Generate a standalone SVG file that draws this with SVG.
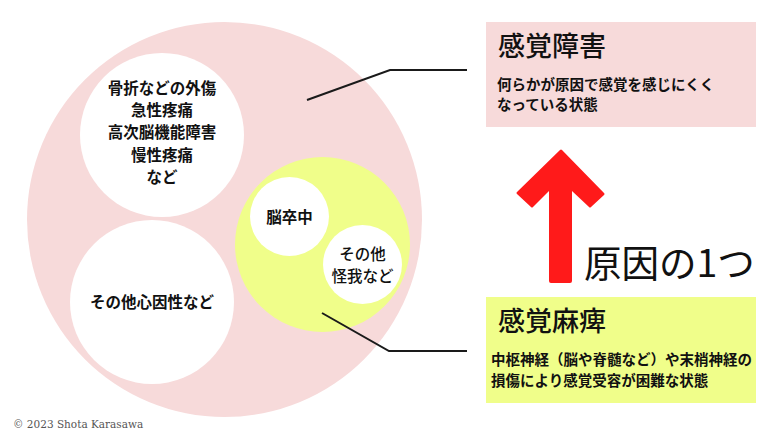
<svg xmlns="http://www.w3.org/2000/svg" width="780" height="439" viewBox="0 0 780 439">
<style>
text{font-family:"Noto Sans CJK JP","Noto Sans",sans-serif;fill:#111;font-weight:700}
.c{text-anchor:middle;font-size:15.5px}
.t{font-size:27px;font-weight:500}
.b{font-size:14.5px}
.line{fill:none;stroke:#1a1a1a;stroke-width:2}
</style>
<rect width="780" height="439" fill="#fff"/>
<g id="outer"><circle cx="224.5" cy="219.5" r="197.5" fill="#f7dada"/></g>
<g id="trauma"><circle cx="162" cy="135" r="82" fill="#fff"/>
<text class="c" x="162" y="94">骨折などの外傷</text><text class="c" x="162" y="116">急性疼痛</text><text class="c" x="162" y="138">高次脳機能障害</text><text class="c" x="162" y="161">慢性疼痛</text><text class="c" x="162" y="183">など</text></g>
<g id="psychogenic"><circle cx="152" cy="302" r="82" fill="#fff"/><text class="c" x="152" y="308">その他心因性など</text></g>
<g id="paralysis-circle"><circle cx="322.5" cy="244.5" r="87.5" fill="#f0fe8a"/></g>
<g id="stroke"><circle cx="289.5" cy="216.5" r="39.5" fill="#fff"/><text class="c" x="289.5" y="223">脳卒中</text></g>
<g id="other-injury"><circle cx="362.5" cy="264.5" r="39.5" fill="#fff"/><text class="c" x="362.5" y="260" style="font-weight:500">その他</text><text class="c" x="362.5" y="282" style="font-weight:500">怪我など</text></g>
<g id="connectors">
<polyline class="line" points="307,100 390,70 467,70"/>
<polyline class="line" points="322,313 389,351 467,351"/>
</g>
<g id="sensory-disorder"><rect x="486" y="22" width="270" height="105" fill="#f7dada"/>
<text class="t" x="498" y="56">感覚障害</text><text class="b" x="497" y="90">何らかが原因で感覚を感じにくく</text><text class="b" x="497" y="110">なっている状態</text></g>
<g id="arrow"><path d="M560 150Q561 149 562 150L604 193Q605 194 604 195L591 207Q590 208 589 207L572 191V281Q572 283 570 283H551Q549 283 549 281V191L533 207Q532 208 531 207L517 194Q516 193 517 192Z" fill="#ff1a1a"/>
<text x="584" y="277" style="font-size:37.5px;font-weight:400">原因の1つ</text></g>
<g id="sensory-paralysis"><rect x="486" y="297" width="270" height="106" fill="#f0fe8a"/>
<text class="t" x="498" y="331">感覚麻痺</text><text class="b" x="491" y="365">中枢神経（脳や脊髄など）や末梢神経の</text><text class="b" x="491" y="386">損傷により感覚受容が困難な状態</text></g>
<text x="13" y="428" style="font-family:'DejaVu Serif',serif;font-size:10.5px;fill:#555;font-weight:400">© 2023 Shota Karasawa</text>
</svg>
